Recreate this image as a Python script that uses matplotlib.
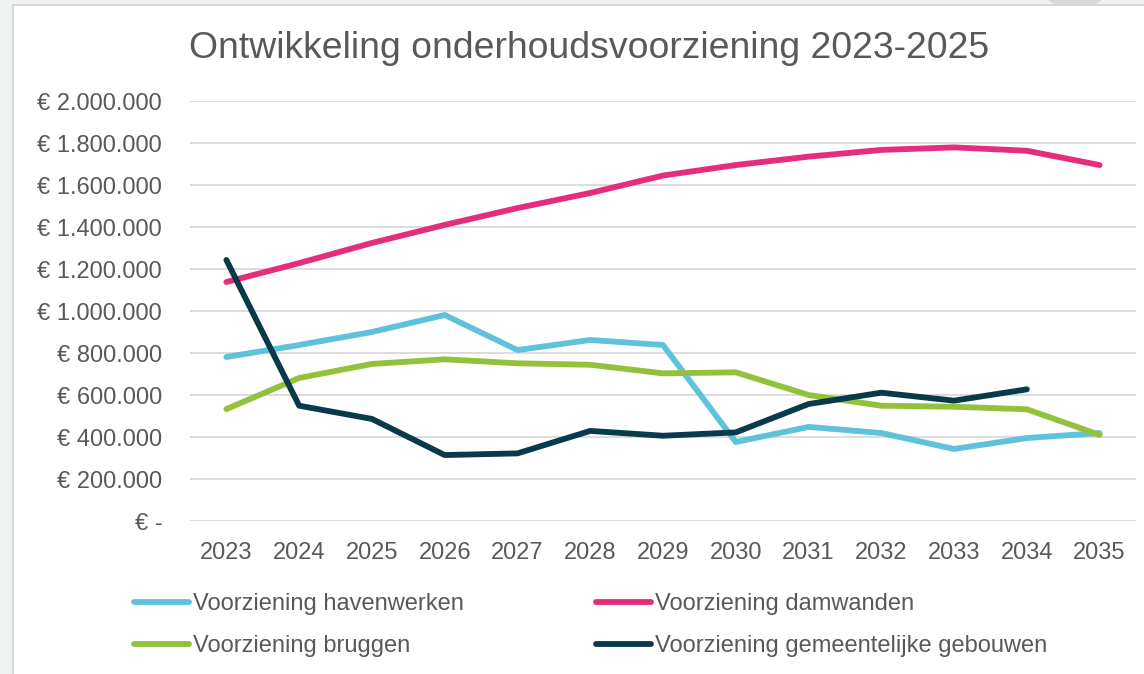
import matplotlib.pyplot as plt
from matplotlib.patches import Rectangle, Polygon
from matplotlib.ticker import FuncFormatter

plt.rcParams['font.family'] = ['Liberation Sans', 'DejaVu Sans']

jaren = [2023, 2024, 2025, 2026, 2027, 2028, 2029, 2030, 2031, 2032, 2033, 2034, 2035]

havenwerken = [781000, 838000, 900000, 981000, 814000, 862000, 838000,
               376000, 448000, 419000, 343000, 395000, 419000]
damwanden = [1138000, 1228000, 1324000, 1410000, 1490000, 1562000, 1645000,
             1695000, 1735000, 1767000, 1779000, 1763000, 1695000]
bruggen = [533000, 681000, 748000, 770000, 751000, 744000, 703000,
           708000, 600000, 549000, 544000, 532000, 410000]
gebouwen = [1243000, 549000, 486000, 314000, 322000, 429000, 406000,
            422000, 557000, 611000, 573000, 627000, None]

tekst = '#595959'

fig = plt.figure(figsize=(11.44, 6.74), dpi=100)
fig.patch.set_facecolor('#EEF2F3')

# witte kaart met grijze rand (screenshot)
fig.add_artist(Rectangle((12 / 1144, 0), 1, 1 - 4 / 674, transform=fig.transFigure,
                         facecolor='#D9D9D9', edgecolor='none', zorder=0))
fig.add_artist(Rectangle((14 / 1144, 0), 1, 1 - 6 / 674, transform=fig.transFigure,
                         facecolor='white', edgecolor='none', zorder=0))
fig.add_artist(Polygon([(1048 / 1144, 1), (1054 / 1144, 1 - 4 / 674),
                        (1096 / 1144, 1 - 4 / 674), (1102 / 1144, 1)],
                       transform=fig.transFigure, facecolor='#D9D9D9',
                       edgecolor='none', zorder=0))

ax = fig.add_axes([190 / 1144, 1 - 521 / 674, 946 / 1144, 420 / 674])
ax.set_facecolor('none')

x = list(range(len(jaren)))
lw = 4.2
stijl = dict(lw=lw, solid_capstyle='round', solid_joinstyle='round')
l1, = ax.plot(x, havenwerken, color='#5EC3DA', label='Voorziening havenwerken', **stijl)
l2, = ax.plot(x, damwanden, color='#E52D7E', label='Voorziening damwanden', **stijl)
l3, = ax.plot(x, bruggen, color='#94C13C', label='Voorziening bruggen', **stijl)
gx = [i for i, v in zip(x, gebouwen) if v is not None]
gy = [v for v in gebouwen if v is not None]
l4, = ax.plot(gx, gy, color='#073B4C', label='Voorziening gemeentelijke gebouwen', **stijl)

ax.set_xlim(-0.5, len(jaren) - 0.5)
ax.set_ylim(0, 2000000)
ax.set_yticks(range(0, 2000001, 200000))
ax.yaxis.grid(True, color='#D9D9D9', lw=1.3)
ax.set_axisbelow(True)


def euro(v, pos):
    if v == 0:
        return '€ -'
    return '€ ' + f'{int(v):,}'.replace(',', '.')


ax.yaxis.set_major_formatter(FuncFormatter(euro))
ax.set_xticks(x)
ax.set_xticklabels([str(j) for j in jaren])
ax.tick_params(axis='both', length=0, labelsize=17, colors=tekst)
ax.tick_params(axis='y', pad=20)
ax.tick_params(axis='x', pad=15)
for s in ax.spines.values():
    s.set_visible(False)

fig.text(589 / 1144, 1 - 58 / 674, 'Ontwikkeling onderhoudsvoorziening 2023-2025',
         ha='center', va='baseline', fontsize=26.9, color=tekst)

# volgorde zodat de legenda per rij loopt zoals in Excel
leg = fig.legend([l1, l3, l2, l4], [l1.get_label(), l3.get_label(), l2.get_label(), l4.get_label()],
                 ncol=2, loc='upper left', bbox_to_anchor=(113 / 1144, 1 - 572 / 674),
                 frameon=False, fontsize=17, handlelength=2.33, handletextpad=0.17,
                 columnspacing=5.6, labelspacing=0.84, labelcolor=tekst)

fig.savefig('out.png', dpi=100)
